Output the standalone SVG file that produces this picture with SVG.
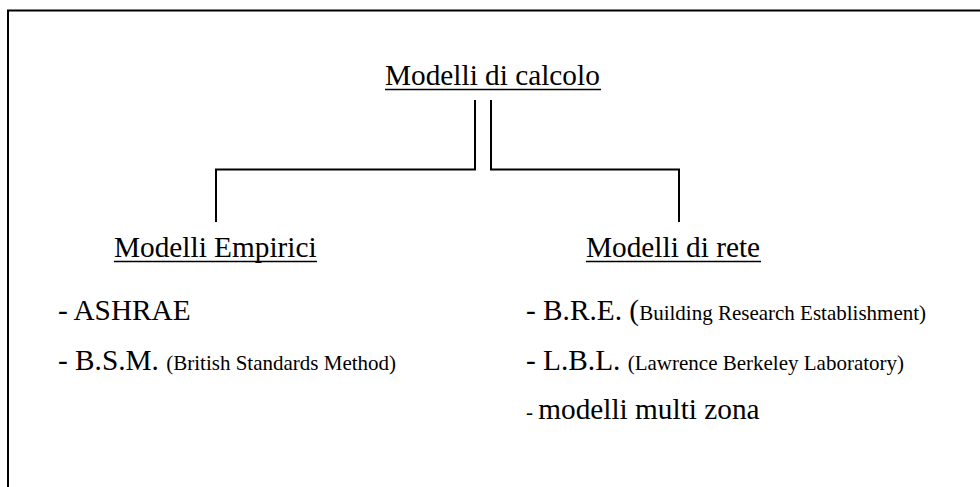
<svg xmlns="http://www.w3.org/2000/svg" width="980" height="487" viewBox="0 0 980 487">
<style>
  text { font-family: "Liberation Serif", "Times New Roman", "DejaVu Serif", serif; fill: #000; }
  .big { font-size: 29.3px; }
  .small { font-size: 21px; }
  .ul { stroke: #000; stroke-width: 1.5; }
  .conn { fill: none; stroke: #000; stroke-width: 2; }
</style>
<rect x="8" y="10.5" width="1000" height="520" fill="#fff" stroke="#000" stroke-width="2"/>
<g id="connectors">
  <path class="conn" d="M216,222 V169.5 H475 V100"/>
  <path class="conn" d="M491,100 V169.5 H679 V222"/>
</g>
<g id="root">
  <text class="big" x="385" y="85">Modelli di calcolo</text>
  <line class="ul" x1="385" y1="89.5" x2="601" y2="89.5"/>
</g>
<g id="empirici">
  <text class="big" x="114" y="257">Modelli Empirici</text>
  <line class="ul" x1="114" y1="261.5" x2="317" y2="261.5"/>
</g>
<g id="rete">
  <text class="big" x="586" y="257">Modelli di rete</text>
  <line class="ul" x1="586" y1="261.5" x2="761" y2="261.5"/>
</g>
<g id="empirici-items">
  <text class="big" x="58" y="320">- ASHRAE</text>
  <text x="58" y="370"><tspan class="big">- B.S.M. </tspan><tspan class="small">(British Standards Method)</tspan></text>
</g>
<g id="rete-items">
  <text x="526" y="320"><tspan class="big">- B.R.E. (</tspan><tspan class="small">Building Research Establishment)</tspan></text>
  <text x="526" y="370"><tspan class="big">- L.B.L. </tspan><tspan class="small">(Lawrence Berkeley Laboratory)</tspan></text>
  <text x="526" y="419"><tspan class="small">- </tspan><tspan class="big">modelli multi zona</tspan></text>
</g>
</svg>
